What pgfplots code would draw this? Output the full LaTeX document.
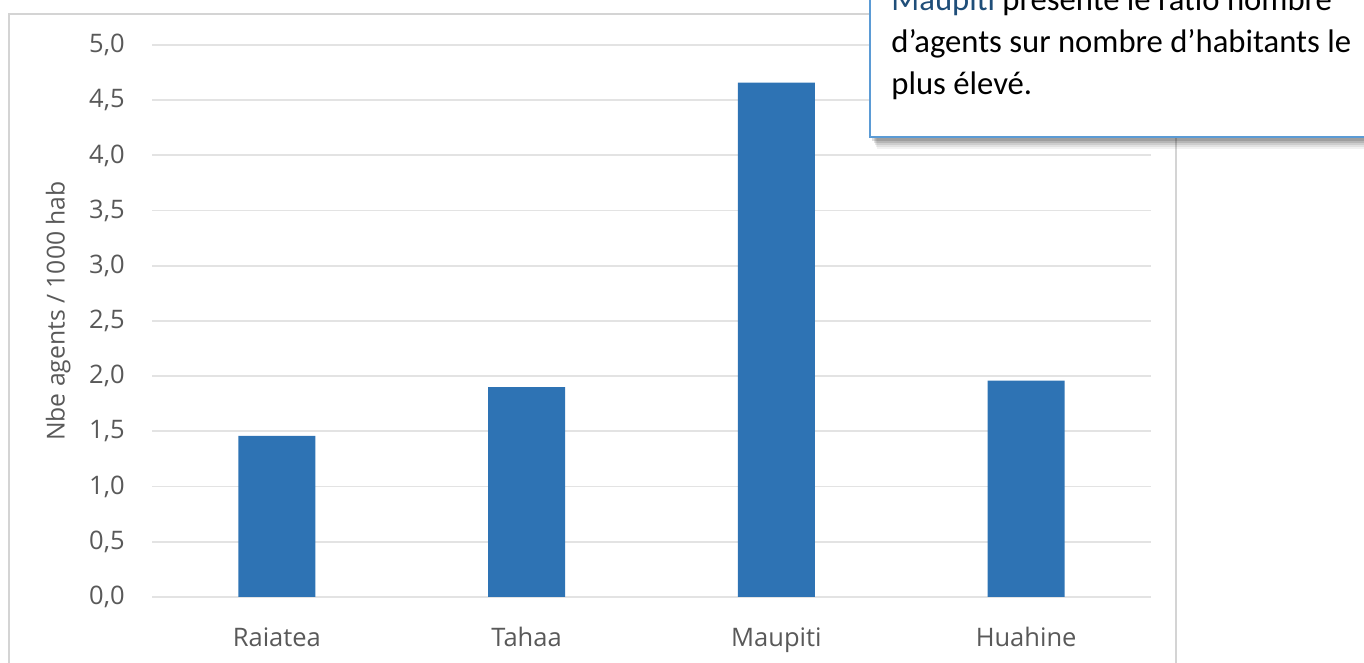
\documentclass[border=0pt]{standalone}
\usepackage{pgfplots}
\pgfplotsset{compat=1.18}
\usepackage{fontspec}
\setmainfont{Open Sans}
\newfontfamily\calloutfont{Carlito}
\definecolor{barblue}{HTML}{2E73B4}
\definecolor{gridgray}{HTML}{E3E3E3}
\definecolor{labelgray}{HTML}{595959}
\definecolor{frame}{HTML}{D4D4D4}
\definecolor{calloutblue}{HTML}{5B9BD5}
\definecolor{titleblue}{HTML}{1F4E79}
\begin{document}
\begin{tikzpicture}
\useasboundingbox (0bp,0bp) rectangle (682bp,331.5bp);
\clip (0bp,0bp) rectangle (682bp,331.5bp);
% chart area border
\draw[frame, line width=1bp] (4.5bp,-5bp) rectangle (588bp,324.5bp);
\begin{axis}[
  at={(76bp,33bp)}, anchor=south west,
  scale only axis, width=499.5bp, height=276bp,
  xmin=-0.5, xmax=3.5, ymin=0, ymax=5,
  axis line style={draw=none},
  ytick={0,0.5,...,5},
  ymajorgrids, grid style={gridgray, line width=0.9bp},
  major tick length=0pt,
  xtick=data,
  xticklabels={Raiatea,Tahaa,Maupiti,Huahine},
  /pgf/number format/fixed,
  /pgf/number format/fixed zerofill,
  /pgf/number format/precision=1,
  /pgf/number format/use comma,
  /pgf/number format/assume math mode=true,
  tick label style={font=\fontsize{12.8}{14}\selectfont, text=labelgray},
  yticklabel style={anchor=east, inner sep=0pt, xshift=-13.5bp},
  xticklabel style={anchor=base, inner sep=0pt, yshift=-25bp},
  ylabel={Nbe agents / 1000 hab},
  ylabel style={font=\fontsize{12.4}{14}\selectfont, text=labelgray,
    at={(axis description cs:-0.094,0.518)}, anchor=center},
]
\addplot[ybar, bar width=38.5bp, fill=barblue, draw=none] coordinates {
  (0,1.46) (1,1.90) (2,4.66) (3,1.96)
};
\end{axis}
% callout with its shadow
\foreach \s/\o in {6/0.05,5/0.07,4/0.09,3/0.11,2/0.13}{
  \fill[black, opacity=\o] (435bp+\s bp*0.6,263bp-\s bp) rectangle (700bp,340bp);
}
\draw[calloutblue, fill=white, line width=1bp] (435bp,263bp) rectangle (700bp,340bp);
\begin{scope}[font=\calloutfont\fontsize{16.4}{20}\selectfont]
\node[anchor=base west, inner sep=0] at (445.5bp,326bp) {\textcolor{titleblue}{Maupiti} présente le ratio nombre};
\node[anchor=base west, inner sep=0] at (445.5bp,305bp) {d’agents sur nombre d’habitants le};
\node[anchor=base west, inner sep=0] at (445.5bp,284bp) {plus élevé.};
\end{scope}
\end{tikzpicture}
\end{document}
